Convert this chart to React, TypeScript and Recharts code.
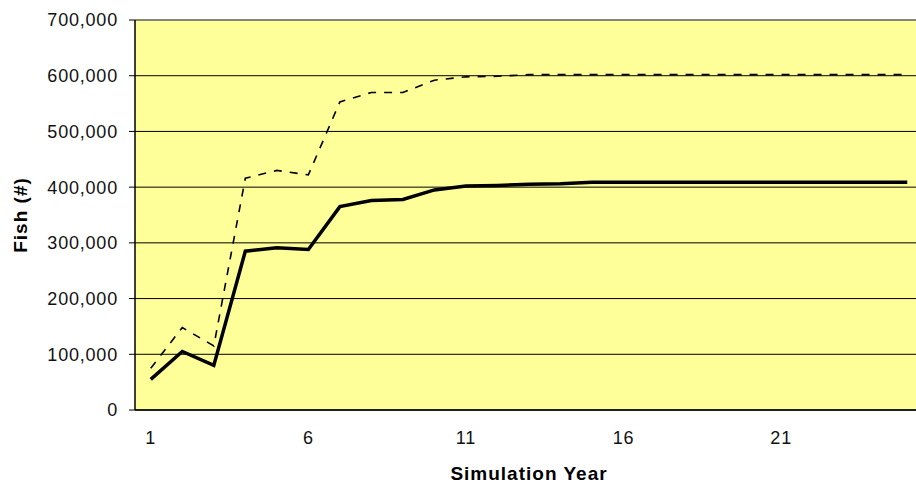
import {
  CartesianGrid,
  Label,
  Line,
  LineChart,
  ReferenceLine,
  XAxis,
  YAxis,
} from "recharts";

// Simulation years (category axis) and fish counts.
const YEARS = [1, 2, 3, 4, 5, 6, 7, 8, 9, 10, 11, 12, 13, 14, 15, 16, 17, 18, 19, 20, 21, 22, 23, 24, 25];
const FISH_SOLID = [
  55000, 105000, 80000, 285000, 291000, 288000, 365000, 376000, 378000, 395000,
  402000, 403000, 405000, 406000, 409000, 409000, 409000, 409000, 409000, 409000,
  409000, 409000, 409000, 409000, 409000,
];
const FISH_DASHED = [
  75000, 148000, 115000, 416000, 430000, 422000, 553000, 570000, 570000, 592000,
  598000, 599000, 602000, 602000, 602000, 602000, 602000, 602000, 602000, 602000,
  602000, 602000, 602000, 602000, 602000,
];
const LABELED_YEARS = [1, 6, 11, 16, 21];
const Y_TICKS = [0, 100000, 200000, 300000, 400000, 500000, 600000, 700000];

const rows = YEARS.map((year, i) => ({
  year,
  solid: FISH_SOLID[i],
  dashed: FISH_DASHED[i],
}));

// Excel-style category axis: tick marks sit between categories,
// labels sit on every fifth category (second axis, stacked below).
const boundaryTicks = [...YEARS.map((y) => y - 0.5), YEARS[YEARS.length - 1] + 0.5];
const xDomain = [YEARS[0] - 0.5, YEARS[YEARS.length - 1] + 0.5];

const FONT = "'Liberation Sans', Arial, sans-serif";
const tickStyle = { fontSize: 18, fill: "#111", fontFamily: FONT, letterSpacing: 0.8 };
const titleStyle = {
  fontSize: 19,
  fontWeight: "bold",
  fill: "#000",
  fontFamily: FONT,
  letterSpacing: 1,
  textAnchor: "middle",
} as const;

const fmt = (v: number) => v.toLocaleString("en-US");

export default function App() {
  return (
    <div
      style={{
        position: "fixed",
        left: 0,
        top: 0,
        width: 916,
        height: 486,
        overflow: "hidden",
        background: "#fff",
      }}
    >
      <LineChart
        width={940}
        height={486}
        data={rows}
        margin={{ top: 20, right: 17, bottom: 0, left: 0 }}
      >
        <CartesianGrid vertical={false} stroke="#000" fill="#FFFF99" fillOpacity={1} />
        <XAxis
          xAxisId={0}
          dataKey="year"
          type="number"
          domain={xDomain}
          ticks={boundaryTicks}
          tick={false}
          tickSize={6}
          axisLine={{ stroke: "#000", strokeWidth: 1.5 }}
          tickLine={{ stroke: "#000" }}
          height={8}
        />
        <XAxis
          xAxisId={1}
          dataKey="year"
          type="number"
          domain={xDomain}
          ticks={LABELED_YEARS}
          axisLine={false}
          tickLine={false}
          tickSize={0}
          tickMargin={13}
          tick={tickStyle}
          height={68}
        >
          <Label value="Simulation Year" position="insideBottom" offset={6} style={titleStyle} />
        </XAxis>
        <YAxis
          domain={[0, 700000]}
          ticks={Y_TICKS}
          tickFormatter={fmt}
          tick={tickStyle}
          tickSize={6}
          tickMargin={11}
          width={135}
          axisLine={{ stroke: "#000", strokeWidth: 1.5 }}
          tickLine={{ stroke: "#000" }}
        >
          <Label value="Fish (#)" angle={-90} position="insideLeft" offset={20} style={titleStyle} />
        </YAxis>
        <ReferenceLine y={700000} stroke="#8a8a8a" />
        <Line
          type="linear"
          dataKey="dashed"
          stroke="#000"
          strokeWidth={1.6}
          strokeDasharray="8 8"
          dot={false}
          isAnimationActive={false}
        />
        <Line
          type="linear"
          dataKey="solid"
          stroke="#000"
          strokeWidth={3.5}
          dot={false}
          isAnimationActive={false}
        />
      </LineChart>
    </div>
  );
}
